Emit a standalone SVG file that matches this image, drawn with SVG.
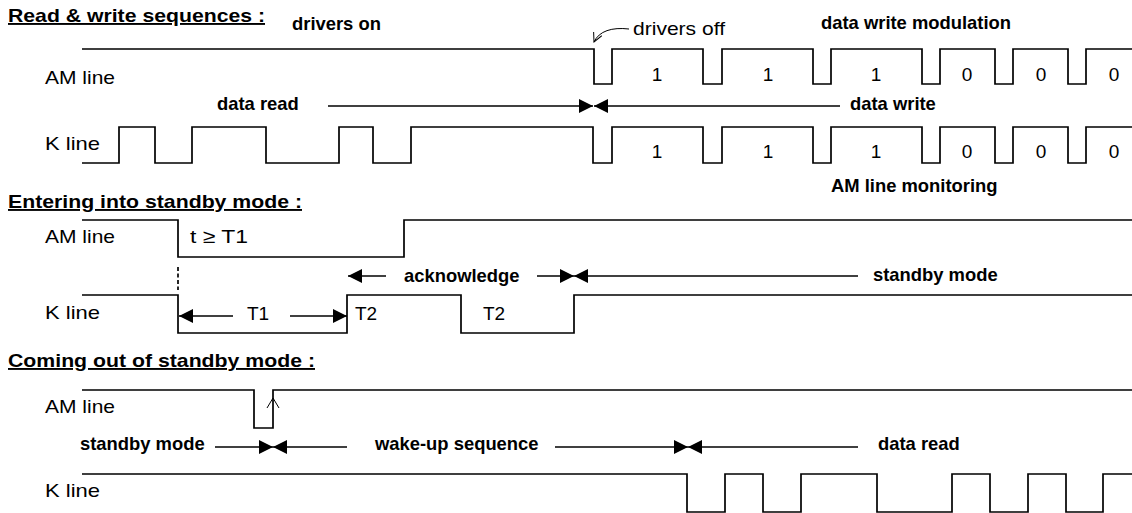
<svg xmlns="http://www.w3.org/2000/svg" width="1132" height="513" viewBox="0 0 1132 513">
<style>
text{font-family:"Liberation Sans",Arial,Helvetica,sans-serif;fill:#000}
.t{font-weight:bold;font-size:19px;text-decoration:underline}
.b{font-weight:bold;font-size:18.4px}
.r{font-size:19px}
.w{fill:none;stroke:#000;stroke-width:1.7}
.a{fill:none;stroke:#000;stroke-width:1.7}
.thin{fill:none;stroke:#000;stroke-width:1}
</style>
<defs>
<marker id="ah" markerUnits="userSpaceOnUse" markerWidth="14" markerHeight="14" refX="14" refY="7" orient="auto">
<path d="M0,0 L14,7 L0,14 z" fill="#000"/>
</marker>
<marker id="oh" markerUnits="userSpaceOnUse" markerWidth="12" markerHeight="12" refX="10" refY="5" orient="auto">
<path d="M1,0.5 L10,5 L1,9.5" fill="none" stroke="#000" stroke-width="1"/>
</marker>
</defs>

<g id="titles">
<text class="t" x="8" y="22" textLength="257" lengthAdjust="spacingAndGlyphs">Read &amp; write sequences :</text>
<text class="t" x="8" y="208" textLength="294" lengthAdjust="spacingAndGlyphs">Entering into standby mode :</text>
<text class="t" x="8" y="367" textLength="307" lengthAdjust="spacingAndGlyphs">Coming out of standby mode :</text>
</g>

<g id="sec1">
<g id="s1-am">
<text class="r" x="45" y="84" textLength="70" lengthAdjust="spacingAndGlyphs">AM line</text>
<path class="w" d="M82,49 H594 V84 H612 V49 H703 V84 H722 V49 H813 V84 H831 V49 H922 V84 H940 V49 H995 V84 H1013 V49 H1068 V84 H1086 V49 H1132"/>
</g>
<g id="s1-k">
<text class="r" x="45" y="150" textLength="55" lengthAdjust="spacingAndGlyphs">K line</text>
<path class="w" d="M82,163 H119 V127 H155 V163 H192 V127 H266 V163 H339 V127 H373 V163 H411 V127 H593 V163 H612 V127 H703 V163 H722 V127 H813 V163 H831 V127 H922 V163 H940 V127 H995 V163 H1013 V127 H1068 V163 H1086 V127 H1132"/>
</g>
<g id="s1-labels">
<text class="b" x="292" y="30">drivers on</text>
<text class="r" x="633" y="35" textLength="92" lengthAdjust="spacingAndGlyphs">drivers off</text>
<text class="b" x="821" y="29">data write modulation</text>
<text class="b" x="217" y="110">data read</text>
<text class="b" x="850" y="110">data write</text>
<text class="b" x="831" y="192">AM line monitoring</text>
<g class="r" text-anchor="middle">
<text x="657" y="81">1</text><text x="768" y="81">1</text><text x="876" y="81">1</text>
<text x="967" y="81">0</text><text x="1041" y="81">0</text><text x="1114" y="81">0</text>
<text x="657" y="158">1</text><text x="768" y="158">1</text><text x="876" y="158">1</text>
<text x="967" y="158">0</text><text x="1041" y="158">0</text><text x="1114" y="158">0</text>
</g>
</g>
</g>

<g id="sec2">
<g id="s2-am">
<text class="r" x="45" y="243" textLength="70" lengthAdjust="spacingAndGlyphs">AM line</text>
<path class="w" d="M82,220 H178 V257 H404 V220 H1132"/>
<text class="r" x="190" y="243" textLength="58" lengthAdjust="spacingAndGlyphs">t ≥ T1</text>
</g>
<g id="s2-k">
<text class="r" x="45" y="319" textLength="55" lengthAdjust="spacingAndGlyphs">K line</text>
<path class="w" d="M82,295 H178 V333 H347 V295 H461 V333 H574 V295 H1132"/>
<text class="r" x="247" y="320">T1</text>
<text class="r" x="355" y="320">T2</text>
<text class="r" x="483" y="320">T2</text>
</g>
<g id="s2-labels">
<text class="b" x="404" y="282">acknowledge</text>
<text class="b" x="873" y="281">standby mode</text>
</g>
</g>

<g id="sec3">
<g id="s3-am">
<text class="r" x="45" y="413" textLength="70" lengthAdjust="spacingAndGlyphs">AM line</text>
<path class="w" d="M82,390 H254 V428 H273 V390 H1132"/>
</g>
<g id="s3-k">
<text class="r" x="45" y="497" textLength="55" lengthAdjust="spacingAndGlyphs">K line</text>
<path class="w" d="M82,474 H687 V512 H725 V474 H763 V512 H801 V474 H877 V512 H952 V474 H990 V512 H1028 V474 H1066 V512 H1103 V474 H1132"/>
</g>
<g id="s3-labels">
<text class="b" x="80" y="450">standby mode</text>
<text class="b" x="375" y="450">wake-up sequence</text>
<text class="b" x="878" y="450">data read</text>
</g>
</g>

<g id="connectors">
<path class="thin" d="M629,29 C612,27 599,31 594,42" marker-end="url(#oh)"/>
<line class="a" x1="328" y1="106" x2="593" y2="106" marker-end="url(#ah)"/>
<line class="a" x1="840" y1="106" x2="594" y2="106" marker-end="url(#ah)"/>
<line class="a" x1="178" y1="267" x2="178" y2="290" stroke-dasharray="4 2.5"/>
<line class="a" x1="233" y1="316" x2="179" y2="316" marker-end="url(#ah)"/>
<line class="a" x1="290" y1="316" x2="347" y2="316" marker-end="url(#ah)"/>
<line class="a" x1="386" y1="276" x2="348" y2="276" marker-end="url(#ah)"/>
<line class="a" x1="537" y1="276" x2="574" y2="276" marker-end="url(#ah)"/>
<line class="a" x1="858" y1="276" x2="574" y2="276" marker-end="url(#ah)"/>
<polyline class="thin" points="267,408 273,398 279,408"/>
<line class="a" x1="215" y1="447" x2="273" y2="447" marker-end="url(#ah)"/>
<line class="a" x1="347" y1="447" x2="273" y2="447" marker-end="url(#ah)"/>
<line class="a" x1="555" y1="447" x2="688" y2="447" marker-end="url(#ah)"/>
<line class="a" x1="858" y1="447" x2="688" y2="447" marker-end="url(#ah)"/>
</g>
</svg>
